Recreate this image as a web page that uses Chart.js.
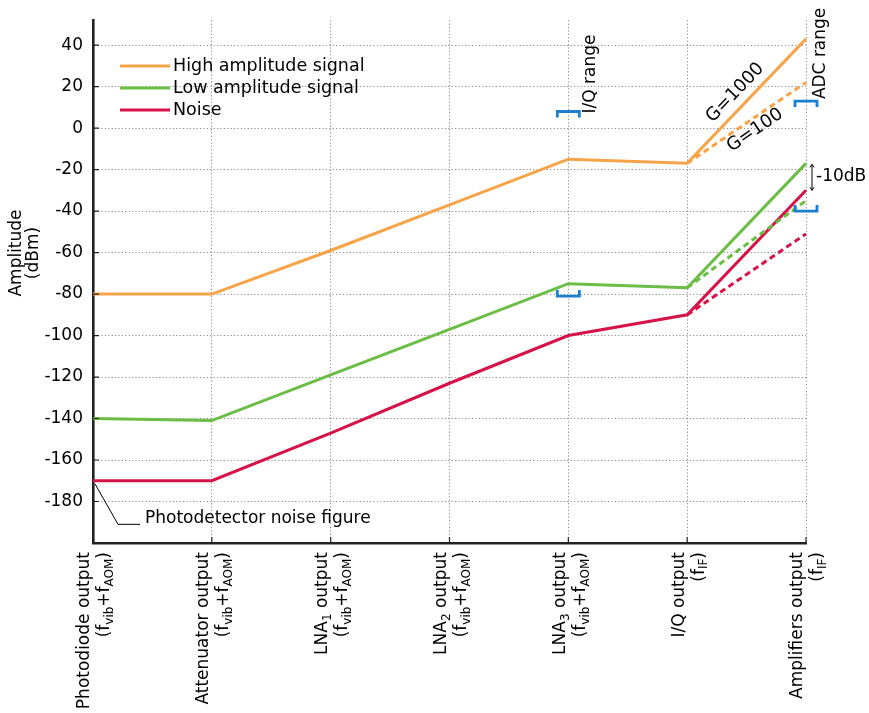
<!DOCTYPE html>
<html>
<head>
<meta charset="utf-8">
<script src="https://cdn.jsdelivr.net/npm/chart.js@4/dist/chart.umd.min.js"></script>
<style>
    html, body { margin: 0; padding: 0; background: #fff; }
    canvas { display: block; }
</style>
</head>
<body>
<canvas id="levelsChart" width="869" height="713"></canvas>
<script>
'use strict';

// categories: first line, second line (_{..} = subscript)
const categories = [
    ['Photodiode output', '(f_{vib}+f_{AOM})'],
    ['Attenuator output', '(f_{vib}+f_{AOM})'],
    ['LNA_{1} output', '(f_{vib}+f_{AOM})'],
    ['LNA_{2} output', '(f_{vib}+f_{AOM})'],
    ['LNA_{3} output', '(f_{vib}+f_{AOM})'],
    ['I/Q output', '(f_{IF})'],
    ['Amplifiers output', '(f_{IF})']
];

// amplitudes in dBm
const highSignal = [-80, -80, -59, -37, -15, -17, 43];
const highSignalG100 = [null, null, null, null, null, -17, 22];
const lowSignal = [-140, -141, -119, -97, -75, -77, -17];
const lowSignalG100 = [null, null, null, null, null, -77, -35];
const noise = [-170, -170, -147, -123, -100, -90, -30];
const noiseG100 = [null, null, null, null, null, -90, -51];

const yTicks = [40, 20, 0, -20, -40, -60, -80, -100, -120, -140, -160, -180];
const yMin = -200;
const yMax = 52;

// ranges: [category index, upper dBm, lower dBm]
const iqRange = [4, 8, -81];
const adcRange = [6, 13, -40];

const legendLabels = ['High amplitude signal', 'Low amplitude signal', 'Noise'];

const orange = '#f7a449';
const green = '#6cbd45';
const red = '#d61248';
const blue = '#1a7fcf';
const fontFamily = '"DejaVu Sans", Verdana, sans-serif';
const fontSize = 17;

let plainLabel = function (s) {
    return s.replace(/_\{([^}]*)\}/g, '$1');
};

// split "LNA_{1} output" into [{t, sub}]
let parseParts = function (s) {
    let parts = [];
    let re = /_\{([^}]*)\}/g;
    let last = 0, m;
    while ((m = re.exec(s)) !== null) {
        if (m.index > last) parts.push({ t: s.slice(last, m.index), sub: false });
        parts.push({ t: m[1], sub: true });
        last = re.lastIndex;
    }
    if (last < s.length) parts.push({ t: s.slice(last), sub: false });
    return parts;
};

// draws text with subscripts, right aligned at (0, 0) of the current frame
let drawRichRight = function (ctx, s, size) {
    let parts = parseParts(s);
    let widths = parts.map(function (p) {
        ctx.font = (p.sub ? Math.round(size * 0.68) : size) + 'px ' + fontFamily;
        return ctx.measureText(p.t).width;
    });
    let total = widths.reduce(function (a, b) { return a + b; }, 0);
    let x = -total;
    parts.forEach(function (p, i) {
        ctx.font = (p.sub ? Math.round(size * 0.68) : size) + 'px ' + fontFamily;
        ctx.fillText(p.t, x, p.sub ? size * 0.3 : 0);
        x += widths[i];
    });
};

let lineSet = function (label, data, color, dashed) {
    return {
        label: label,
        data: data,
        borderColor: color,
        backgroundColor: color,
        borderWidth: 3,
        borderDash: dashed ? [6, 4] : [],
        pointRadius: 0,
        fill: false,
        tension: 0
    };
};

const annotationsPlugin = {
    id: 'annotations',
    afterDraw: function (chart) {
        let ctx = chart.ctx;
        let xs = chart.scales.x;
        let ys = chart.scales.y;
        let area = chart.chartArea;
        let px = function (i) { return xs.getPixelForValue(i); };
        let py = function (v) { return ys.getPixelForValue(v); };

        ctx.save();
        ctx.fillStyle = '#000';
        ctx.textBaseline = 'middle';

        // inner tick marks
        ctx.strokeStyle = '#222';
        ctx.lineWidth = 1.2;
        ctx.beginPath();
        yTicks.forEach(function (v) {
            ctx.moveTo(area.left, py(v));
            ctx.lineTo(area.left + 6, py(v));
        });
        categories.forEach(function (c, i) {
            ctx.moveTo(px(i), area.bottom);
            ctx.lineTo(px(i), area.bottom - 6);
        });
        ctx.stroke();

        // category labels, rotated
        categories.forEach(function (lines, i) {
            ctx.save();
            ctx.translate(px(i), 552);
            ctx.rotate(-Math.PI / 2);
            ctx.textAlign = 'left';
            ctx.save();
            ctx.translate(0, -8);
            drawRichRight(ctx, lines[0], fontSize);
            ctx.restore();
            ctx.save();
            ctx.translate(0, 12);
            drawRichRight(ctx, lines[1], fontSize);
            ctx.restore();
            ctx.restore();
        });

        // y axis title
        ctx.save();
        ctx.translate(17, 253);
        ctx.rotate(-Math.PI / 2);
        ctx.textAlign = 'center';
        ctx.font = fontSize + 'px ' + fontFamily;
        ctx.fillText('Amplitude', 0, 0);
        ctx.fillText('(dBm)', 0, 17);
        ctx.restore();

        // legend
        let colors = [orange, green, red];
        legendLabels.forEach(function (lbl, i) {
            let ly = 66 + i * 22;
            ctx.strokeStyle = colors[i];
            ctx.lineWidth = 3;
            ctx.setLineDash([]);
            ctx.beginPath();
            ctx.moveTo(120, ly);
            ctx.lineTo(170, ly);
            ctx.stroke();
            ctx.textAlign = 'left';
            ctx.font = '17.5px ' + fontFamily;
            ctx.fillText(lbl, 173, ly);
        });

        // range brackets
        let bracket = function (i, v, up) {
            let x = px(i), y = py(v), h = up ? -6 : 6;
            ctx.strokeStyle = blue;
            ctx.lineWidth = 2.8;
            ctx.beginPath();
            ctx.moveTo(x - 11, y + h);
            ctx.lineTo(x - 11, y);
            ctx.lineTo(x + 11, y);
            ctx.lineTo(x + 11, y + h);
            ctx.stroke();
        };
        [iqRange, adcRange].forEach(function (r) {
            bracket(r[0], r[1], false);
            bracket(r[0], r[2], true);
        });

        ctx.font = fontSize + 'px ' + fontFamily;
        ctx.textAlign = 'left';
        ctx.save();
        ctx.translate(px(iqRange[0]) + 22, py(iqRange[1]) + 2);
        ctx.rotate(-Math.PI / 2);
        ctx.fillText('I/Q range', 0, 0);
        ctx.restore();
        ctx.save();
        ctx.translate(px(adcRange[0]) + 15, py(adcRange[1]) - 2);
        ctx.rotate(-Math.PI / 2);
        ctx.fillText('ADC range', 0, 0);
        ctx.restore();

        // gain labels along the amplifier segments
        let gainLabel = function (data, text, f, off) {
            let x0 = px(5), y0 = py(data[5]);
            let x1 = px(6), y1 = py(data[6]);
            let a = Math.atan2(y1 - y0, x1 - x0);
            ctx.save();
            ctx.translate(x0 + (x1 - x0) * f, y0 + (y1 - y0) * f);
            ctx.rotate(a);
            ctx.textAlign = 'center';
            ctx.font = '18px ' + fontFamily;
            ctx.fillText(text, 0, off);
            ctx.restore();
        };
        gainLabel(highSignal, 'G=1000', 0.49, -14);
        gainLabel(highSignalG100, 'G=100', 0.52, 11);

        // -10dB marker
        let ax = px(6) + 6;
        let ay0 = py(lowSignal[6] - 0.5), ay1 = py(noise[6]);
        ctx.strokeStyle = '#000';
        ctx.lineWidth = 1;
        ctx.beginPath();
        ctx.moveTo(ax, ay0);
        ctx.lineTo(ax, ay1);
        ctx.moveTo(ax - 2, ay0 + 3);
        ctx.lineTo(ax, ay0);
        ctx.lineTo(ax + 2, ay0 + 3);
        ctx.moveTo(ax - 2, ay1 - 3);
        ctx.lineTo(ax, ay1);
        ctx.lineTo(ax + 2, ay1 - 3);
        ctx.stroke();
        ctx.font = fontSize + 'px ' + fontFamily;
        ctx.textAlign = 'left';
        ctx.fillText('-10dB', ax + 4, (ay0 + ay1) / 2 - 1);

        // photodetector noise figure leader
        let lx = px(0);
        ctx.lineWidth = 1;
        ctx.beginPath();
        ctx.moveTo(lx + 2, py(noise[0] - 1.5));
        ctx.lineTo(lx + 25, py(-191));
        ctx.lineTo(lx + 47, py(-191));
        ctx.stroke();
        ctx.fillText('Photodetector noise figure', lx + 52, py(-188));

        ctx.restore();
    }
};

let gridOpts = {
    color: '#8c8c8c',
    lineWidth: 1,
    drawTicks: false
};

let levelsChart = new Chart(document.getElementById('levelsChart'), {
    type: 'line',
    data: {
        labels: categories.map(function (c) { return plainLabel(c[0]); }),
        datasets: [
            lineSet('High amplitude signal', highSignal, orange, false),
            lineSet('High amplitude signal G=100', highSignalG100, orange, true),
            lineSet('Low amplitude signal', lowSignal, green, false),
            lineSet('Low amplitude signal G=100', lowSignalG100, green, true),
            lineSet('Noise', noise, red, false),
            lineSet('Noise G=100', noiseG100, red, true)
        ]
    },
    options: {
        responsive: false,
        animation: false,
        layout: {
            padding: { left: 0, right: 63, top: 17, bottom: 0 }
        },
        plugins: {
            legend: { display: false },
            tooltip: { enabled: false }
        },
        scales: {
            x: {
                offset: false,
                grid: gridOpts,
                border: { display: true, color: '#222', width: 2.6, dash: [1.2, 2.2] },
                ticks: { display: false },
                afterFit: function (scale) { scale.height = 170; }
            },
            y: {
                min: yMin,
                max: yMax,
                grid: gridOpts,
                border: { display: true, color: '#222', width: 2.6, dash: [1.2, 2.2] },
                ticks: {
                    color: '#000',
                    padding: 10,
                    font: { family: fontFamily, size: fontSize }
                },
                afterBuildTicks: function (scale) {
                    scale.ticks = yTicks.map(function (v) { return { value: v }; });
                },
                afterFit: function (scale) { scale.width = 93; }
            }
        }
    },
    plugins: [annotationsPlugin]
});
</script>
</body>
</html>
